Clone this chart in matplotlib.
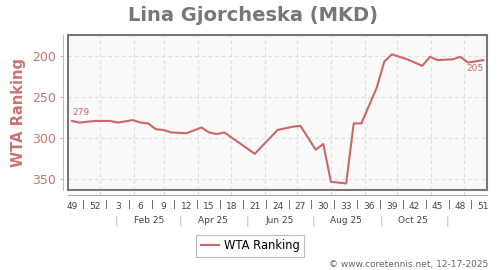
import datetime as dt
from matplotlib import pyplot as plt
from matplotlib import dates as mdates
from matplotlib import transforms
from matplotlib.patches import Rectangle

# weekly ranking points (only the corners of the line)
rank_dates = ['2024-12-06', '2024-12-13', '2024-12-27', '2025-01-10', '2025-01-17',
              '2025-01-31', '2025-02-07', '2025-02-14', '2025-02-21', '2025-02-28',
              '2025-03-07', '2025-03-21', '2025-04-04', '2025-04-11', '2025-04-18',
              '2025-04-25', '2025-05-23', '2025-06-13', '2025-06-27', '2025-07-04',
              '2025-07-18', '2025-07-25', '2025-08-01', '2025-08-15', '2025-08-22',
              '2025-08-29', '2025-09-12', '2025-09-19', '2025-09-26', '2025-10-10',
              '2025-10-24', '2025-10-31', '2025-11-07', '2025-11-21', '2025-11-28',
              '2025-12-05', '2025-12-19']
ranks = [279, 281, 279, 279, 281, 278, 281, 282, 289, 290, 293, 294, 287, 293, 295,
         293, 319, 290, 286, 285, 314, 307, 353, 355, 282, 282, 239, 207, 198, 204,
         212, 201, 205, 204, 201, 208, 205]

week_labels = ['49', '52', '3', '6', '9', '12', '15', '18', '21', '24', '27', '30',
               '33', '36', '39', '42', '45', '48', '51']
month_labels = ['Feb 25', 'Apr 25', 'Jun 25', 'Aug 25', 'Oct 25']

RED = '#cd6666'
PINK = '#c97272'
GREY = '#777777'

x = [dt.datetime.strptime(d, '%Y-%m-%d') for d in rank_dates]
start = x[0]

fig = plt.figure(figsize=(5, 2.7), dpi=100)
ax = fig.add_axes([0.136, 0.2963, 0.838, 0.574])
ax.set_facecolor('#f9f9f9')

ax.plot(x, ranks, color=RED, linewidth=1.5, label='WTA Ranking')

ax.set_ylim(363, 174.5)
ax.set_xlim(start - dt.timedelta(days=3.7), x[-1] + dt.timedelta(days=3.5))
ax.set_yticks([200, 250, 300, 350])

# first / last value labels
ax.annotate(str(ranks[0]), (x[0], ranks[0]), xytext=(0, 3), textcoords='offset points',
            ha='left', va='bottom', fontsize=6.5, color=RED)
ax.annotate(str(ranks[-1]), (x[-1], ranks[-1]), xytext=(0, -3), textcoords='offset points',
            ha='right', va='top', fontsize=6.5, color=RED)

# week ticks every 3 weeks
week_ticks = [start + dt.timedelta(days=21 * i) for i in range(len(week_labels))]
ax.set_xticks(week_ticks)
ax.set_xticklabels(week_labels)
ax.xaxis.set_minor_locator(mdates.MonthLocator())
ax.tick_params(axis='x', which='major', length=0, pad=5, labelsize=6.5, labelcolor='#444444')
ax.tick_params(axis='x', which='minor', length=2, direction='in', color='#cccccc')
ax.tick_params(axis='y', length=2.5, pad=2.5, labelsize=9, labelcolor=PINK, color='#e0b0b0')

ax.grid(True, axis='x', which='minor', color='#dddddd', linestyle=(0, (3, 3)), linewidth=0.8)
ax.grid(True, axis='y', which='major', color='#dddddd', linestyle=(0, (3, 3)), linewidth=0.8)
ax.set_axisbelow(True)

for side in ['top', 'right']:
    ax.spines[side].set_visible(False)
ax.spines['left'].set_position(('outward', 3.6))
ax.spines['left'].set_color('#e0b0b0')
ax.spines['bottom'].set_position(('outward', 3.6))
ax.spines['bottom'].set_color('#aaaaaa')
ax.add_patch(Rectangle((0, 0), 1, 1, transform=ax.transAxes, fill=False,
                       edgecolor=GREY, linewidth=1.5, clip_on=False, zorder=5))

# separators and month row under the week labels
trans = transforms.blended_transform_factory(ax.transData, fig.transFigure)
for i in range(len(week_labels) - 1):
    xs = start + dt.timedelta(days=21 * i + 10.5)
    ax.text(xs, 0.241, '|', transform=trans, ha='center', va='center', fontsize=6.5, color='#444444')
for i, m in enumerate(month_labels):
    ax.text(dt.datetime(2025, 2 + 2 * i, 15), 0.183, m, transform=trans,
            ha='center', va='center', fontsize=6.5, color='#444444')
for mo in [1, 3, 5, 7, 9, 11]:
    ax.text(dt.datetime(2025, mo, 16), 0.183, '|', transform=trans,
            ha='center', va='center', fontsize=8, color='#bbbbbb')

ax.set_ylabel('WTA Ranking', fontsize=10.5, fontweight='bold', color=PINK)
ax.yaxis.set_label_coords(-0.101, 0.5)
fig.text(0.505, 0.944, 'Lina Gjorcheska (MKD)', ha='center', va='center',
         fontsize=14, fontweight='bold', color=GREY)

leg = fig.legend(loc='center', bbox_to_anchor=(0.5, 0.089), fontsize=8.3, frameon=True,
                 fancybox=False, handlelength=1.6, handletextpad=0.4, borderpad=0.4)
leg.get_frame().set_edgecolor('#aaaaaa')
leg.get_frame().set_linewidth(0.8)

fig.text(0.976, 0.022, '\u00a9 www.coretennis.net, 12-17-2025', ha='right', va='center',
         fontsize=6.5, color='#666666')

plt.savefig('out.png', dpi=100)
